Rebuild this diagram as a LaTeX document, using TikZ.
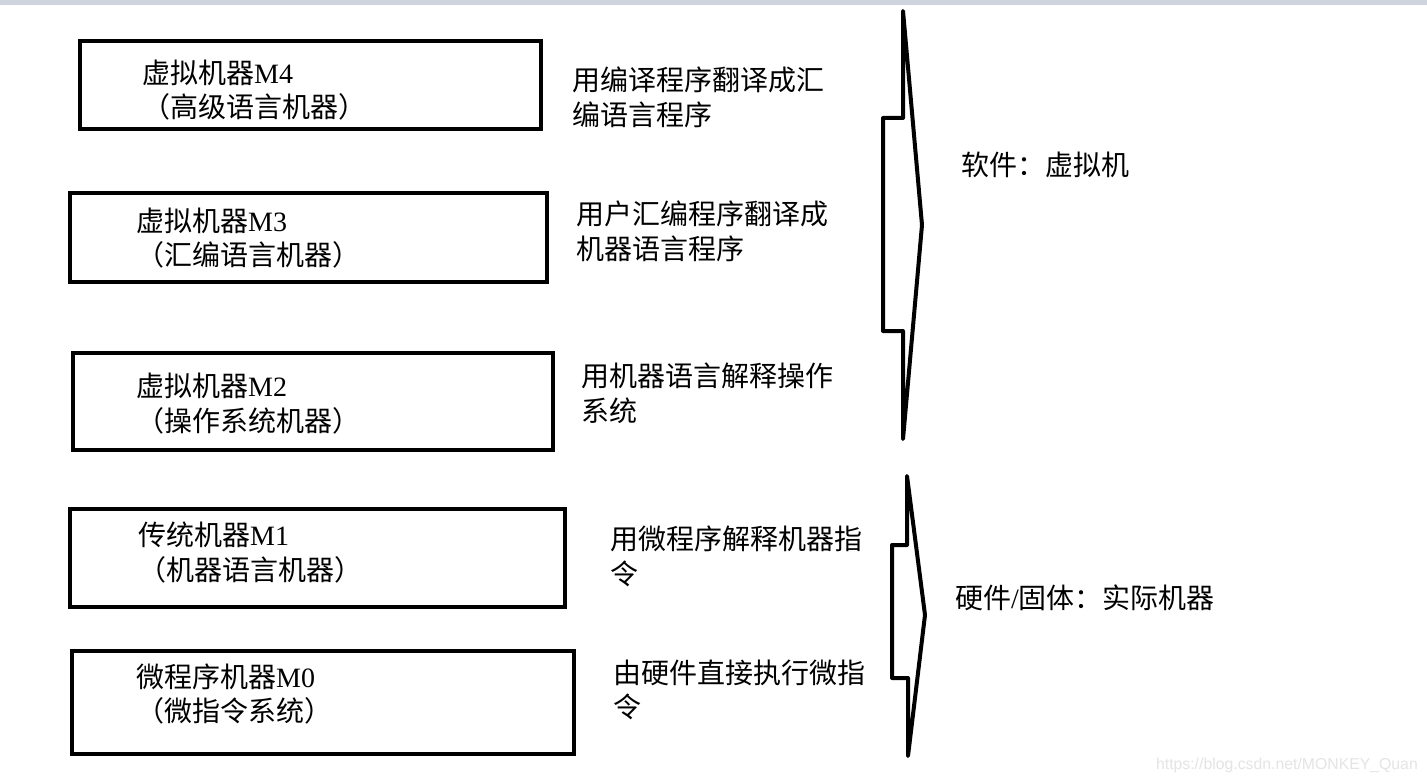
\documentclass[tikz,border=0pt]{standalone}
\usepackage{fontspec}
\setmainfont{Liberation Serif}
\newfontfamily\cjk{Noto Sans CJK SC}
\newfontfamily\wmfont{Liberation Sans}
\newcommand\lt[1]{{\rmfamily #1}}
\definecolor{topbar}{RGB}{206,211,222}
\definecolor{wmgray}{RGB}{228,228,228}
\tikzset{
  boxline/.style={draw=black, line width=4pt, rectangle, inner sep=0pt, outer sep=0pt},
  txt/.style={anchor=west, inner sep=0pt, align=left, font=\cjk\fontsize{28}{34.5}\selectfont},
  arrowline/.style={draw=black, line width=4pt, line join=round, line cap=round},
}
\begin{document}
\begin{tikzpicture}[x=1pt,y=-1pt]
\path[use as bounding box, fill=white] (0,0) rectangle (1427,781);
\fill[topbar] (0,0) rectangle (1427,5);

% boxes
\node[boxline, minimum width=461pt, minimum height=88pt] (b4) at (310.5,85) {};
\node[boxline, minimum width=477pt, minimum height=89pt] (b3) at (308.5,237.5) {};
\node[boxline, minimum width=480pt, minimum height=97pt] (b2) at (313,401.5) {};
\node[boxline, minimum width=495pt, minimum height=98pt] (b1) at (317.5,558) {};
\node[boxline, minimum width=502pt, minimum height=103pt] (b0) at (323,702.5) {};

% box texts
\node[txt] (t4) at (142,90) {虚拟机器\lt{M4}\\（高级语言机器）};
\node[txt] (t3) at (136,238) {虚拟机器\lt{M3}\\（汇编语言机器）};
\node[txt] (t2) at (136,403.5) {虚拟机器\lt{M2}\\（操作系统机器）};
\node[txt] (t1) at (138,552.5) {传统机器\lt{M1}\\（机器语言机器）};
\node[txt] (t0) at (136,694) {微程序机器\lt{M0}\\（微指令系统）};

% right descriptions
\node[txt] (r4) at (572,97.5) {用编译程序翻译成汇\\编语言程序};
\node[txt] (r3) at (576,231.5) {用户汇编程序翻译成\\机器语言程序};
\node[txt] (r2) at (581,393.5) {用机器语言解释操作\\系统};
\node[txt] (r1) at (610,556.5) {用微程序解释机器指\\令};
\node[txt] (r0) at (613,690) {由硬件直接执行微指\\令};

% brace arrows
\draw[arrowline] (903,11) -- (922,225) -- (903,439) -- (903,331) -- (883,331) -- (883,118) -- (903,118) -- cycle;
\draw[arrowline] (907,476) -- (925,615) -- (908,756) -- (908,678) -- (892,678) -- (892,545) -- (907,545) -- cycle;

\node[txt] (s1) at (961,165) {软件：虚拟机};
\node[txt] (s0) at (955,598) {硬件\lt{/}固体：实际机器};

% watermark
\node[anchor=base east, inner sep=0pt, text=wmgray, font=\wmfont\fontsize{15.8}{18}\selectfont] (wm) at (1418,769) {https://blog.csdn.net/MONKEY\_Quan};
\end{tikzpicture}
\end{document}
